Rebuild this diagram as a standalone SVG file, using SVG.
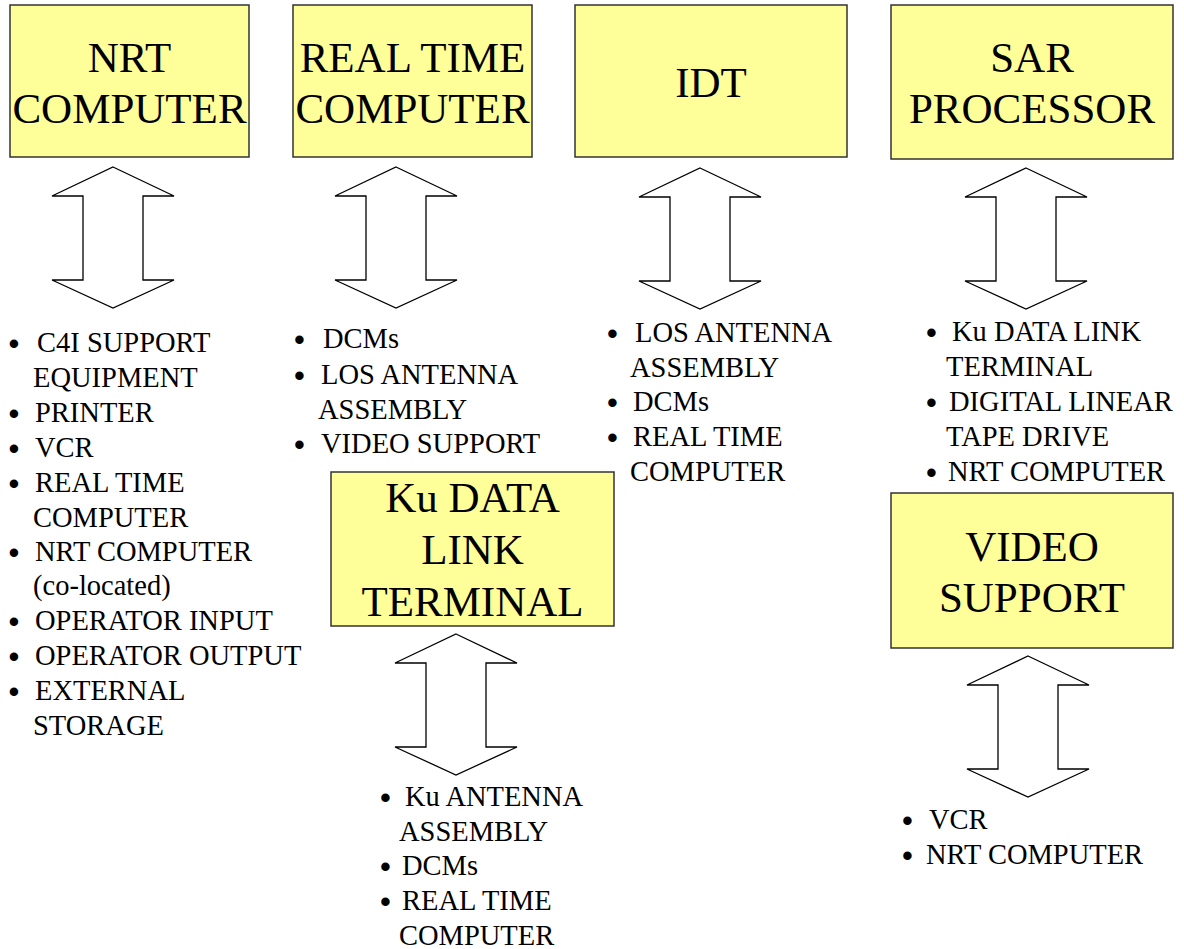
<svg xmlns="http://www.w3.org/2000/svg" xmlns:xlink="http://www.w3.org/1999/xlink" width="1184" height="949" viewBox="0 0 1184 949">
<style>
.box{fill:#FFFF99;stroke:#333333;stroke-width:1.5}
.title{font-family:"Liberation Serif","Times New Roman",serif;font-size:43px;fill:#000;text-anchor:middle}
.item{font-family:"Liberation Serif","Times New Roman",serif;font-size:28.5px;fill:#000}
.bul{font-family:"Liberation Sans",Arial,sans-serif;font-size:31px;fill:#000}
.arrow{fill:#FFFFFF;stroke:#000;stroke-width:1.3;stroke-linejoin:miter}
</style>
<defs>
<path id="dbl" d="M0,0 L61,29 L30,29 L30,113 L61,113 L0,141 L-61,113 L-30,113 L-30,29 L-61,29 Z"/>
</defs>
<rect width="1184" height="949" fill="#FFFFFF"/>

<g id="node-nrt">
<rect class="box" x="10" y="5" width="239" height="152"/>
<text class="title" x="129.5" y="72">NRT</text>
<text class="title" x="129.5" y="123">COMPUTER</text>
</g>
<g id="node-realtime">
<rect class="box" x="293" y="5" width="239" height="152"/>
<text class="title" x="412.5" y="72">REAL TIME</text>
<text class="title" x="412.5" y="123">COMPUTER</text>
</g>
<g id="node-idt">
<rect class="box" x="575" y="5" width="272" height="152"/>
<text class="title" x="711" y="97">IDT</text>
</g>
<g id="node-sar">
<rect class="box" x="891" y="5" width="282" height="154"/>
<text class="title" x="1032" y="72">SAR</text>
<text class="title" x="1032" y="123">PROCESSOR</text>
</g>
<g id="node-ku">
<rect class="box" x="331" y="472" width="283" height="154"/>
<text class="title" x="472.5" y="512">Ku DATA</text>
<text class="title" x="472.5" y="564">LINK</text>
<text class="title" x="472.5" y="616">TERMINAL</text>
</g>
<g id="node-video">
<rect class="box" x="891" y="493" width="282" height="155"/>
<text class="title" x="1032" y="561">VIDEO</text>
<text class="title" x="1032" y="612">SUPPORT</text>
</g>

<g id="connectors">
<use xlink:href="#dbl" href="#dbl" class="arrow" transform="translate(113,167)"/>
<use xlink:href="#dbl" href="#dbl" class="arrow" transform="translate(396,167)"/>
<use xlink:href="#dbl" href="#dbl" class="arrow" transform="translate(700,168)"/>
<use xlink:href="#dbl" href="#dbl" class="arrow" transform="translate(1026,168)"/>
<use xlink:href="#dbl" href="#dbl" class="arrow" transform="translate(456,634)"/>
<use xlink:href="#dbl" href="#dbl" class="arrow" transform="translate(1028,656)"/>
</g>

<g id="list-nrt">
<text class="bul" x="8.6" y="354">•</text><text class="item" x="37" y="352">C4I SUPPORT</text>
<text class="item" x="33" y="387">EQUIPMENT</text>
<text class="bul" x="8.6" y="424">•</text><text class="item" x="35" y="422">PRINTER</text>
<text class="bul" x="8.6" y="459">•</text><text class="item" x="35" y="457">VCR</text>
<text class="bul" x="8.6" y="494">•</text><text class="item" x="35" y="492">REAL TIME</text>
<text class="item" x="33" y="527">COMPUTER</text>
<text class="bul" x="8.6" y="563">•</text><text class="item" x="35" y="561">NRT COMPUTER</text>
<text class="item" x="33" y="595">(co-located)</text>
<text class="bul" x="8.6" y="632">•</text><text class="item" x="35" y="630">OPERATOR INPUT</text>
<text class="bul" x="8.6" y="667">•</text><text class="item" x="35" y="665">OPERATOR OUTPUT</text>
<text class="bul" x="8.6" y="702">•</text><text class="item" x="35" y="700">EXTERNAL</text>
<text class="item" x="33" y="735">STORAGE</text>
</g>

<g id="list-realtime">
<text class="bul" x="294" y="350">•</text><text class="item" x="323" y="348">DCMs</text>
<text class="bul" x="294" y="386">•</text><text class="item" x="321" y="384">LOS ANTENNA</text>
<text class="item" x="318" y="419">ASSEMBLY</text>
<text class="bul" x="294" y="455">•</text><text class="item" x="321" y="453">VIDEO SUPPORT</text>
</g>

<g id="list-idt">
<text class="bul" x="607" y="344">•</text><text class="item" x="635" y="342">LOS ANTENNA</text>
<text class="item" x="630" y="377">ASSEMBLY</text>
<text class="bul" x="607" y="413">•</text><text class="item" x="633" y="411">DCMs</text>
<text class="bul" x="607" y="448">•</text><text class="item" x="633" y="446">REAL TIME</text>
<text class="item" x="630" y="481">COMPUTER</text>
</g>

<g id="list-sar">
<text class="bul" x="926" y="343">•</text><text class="item" x="952" y="341">Ku DATA LINK</text>
<text class="item" x="946" y="376">TERMINAL</text>
<text class="bul" x="926" y="413">•</text><text class="item" x="949" y="411">DIGITAL LINEAR</text>
<text class="item" x="946" y="446">TAPE DRIVE</text>
<text class="bul" x="926" y="483">•</text><text class="item" x="948" y="481">NRT COMPUTER</text>
</g>

<g id="list-ku">
<text class="bul" x="380" y="808">•</text><text class="item" x="405" y="806">Ku ANTENNA</text>
<text class="item" x="399" y="841">ASSEMBLY</text>
<text class="bul" x="380" y="877">•</text><text class="item" x="402" y="875">DCMs</text>
<text class="bul" x="380" y="912">•</text><text class="item" x="402" y="910">REAL TIME</text>
<text class="item" x="399" y="945">COMPUTER</text>
</g>

<g id="list-video">
<text class="bul" x="902" y="831">•</text><text class="item" x="929" y="829">VCR</text>
<text class="bul" x="902" y="866">•</text><text class="item" x="926" y="864">NRT COMPUTER</text>
</g>
</svg>
